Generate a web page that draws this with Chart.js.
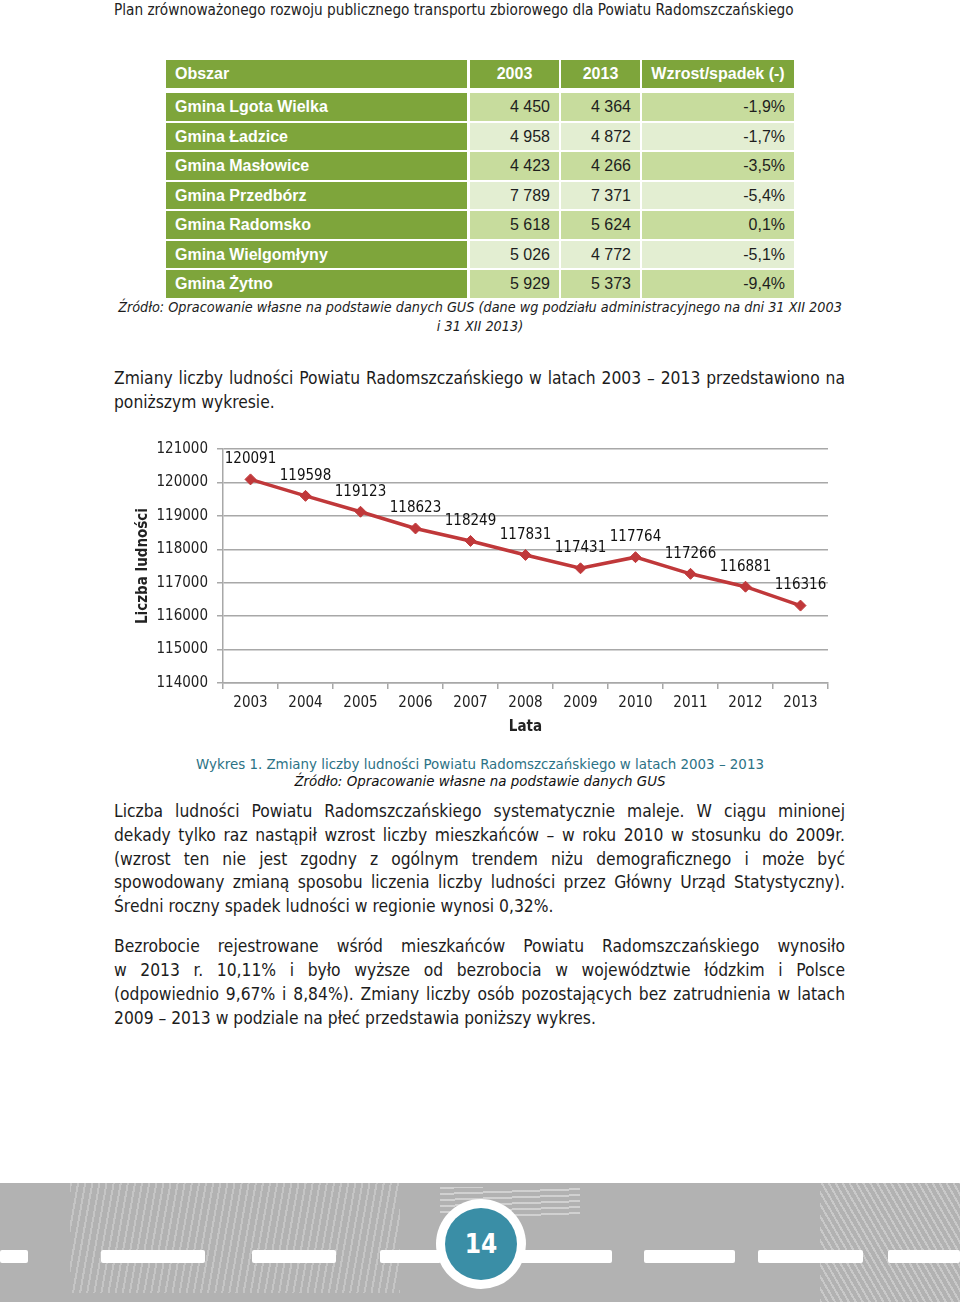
<!DOCTYPE html>
<html lang="pl">
<head>
<meta charset="utf-8">
<title>Zmiany liczby ludności Powiatu Radomszczańskiego</title>
<script src="https://cdn.jsdelivr.net/npm/chart.js@4.4.1/dist/chart.umd.min.js"></script>
<style>
  html, body { margin: 0; padding: 0; background: #fff; }
  body { width: 960px; height: 1302px; position: relative; overflow: hidden;
         font-family: 'DejaVu Sans Condensed', 'DejaVu Sans', sans-serif; color: #1c1c1c; }
  .abs { position: absolute; }
  .hdr { left: 114px; top: 0; line-height: 20px; font-size: 15.2px; color: #222; white-space: nowrap; }
  .line { white-space: nowrap; }
  .just { text-align: justify; text-align-last: justify; }
  .para { left: 114px; width: 731px; font-size: 17.3px; }
  .cell { position: absolute; box-sizing: border-box; font-family: 'Liberation Sans', Arial, sans-serif;
          font-size: 16px; line-height: 27.5px; padding: 0 9px; white-space: nowrap; }
  .src { left: 80px; width: 800px; font-size: 14.3px; font-style: italic; line-height: 19px; text-align: center; }
  #chartBox { position: absolute; left: 130px; top: 430px; width: 710px; height: 310px; }
  .cap { left: 80px; width: 800px; text-align: center; line-height: 17px; font-size: 14.9px; }
  #footer { left: 0; top: 1183px; width: 960px; height: 119px; background: #b2b2b2; overflow: hidden; }
  .dash { position: absolute; top: 67px; height: 13px; background: #fff; border-radius: 2px; }
</style>
</head>
<body>

<div class="abs hdr">Plan zrównoważonego rozwoju publicznego transportu zbiorowego dla Powiatu Radomszczańskiego</div>

<div id="table"></div>

<div class="abs src" style="top:297.5px;">
  <div class="line">Źródło: Opracowanie własne na podstawie danych GUS (dane wg podziału administracyjnego na dni 31 XII 2003</div>
  <div class="line">i 31 XII 2013)</div>
</div>

<div class="abs para" style="top:366px; line-height:24px;">
  <div class="line just">Zmiany liczby ludności Powiatu Radomszczańskiego w latach 2003 – 2013 przedstawiono na</div>
  <div class="line">poniższym wykresie.</div>
</div>

<div id="chartBox"><canvas id="popChart"></canvas></div>

<div class="abs cap" style="top:755.5px;">
  <div class="line" style="color:#2c7285;">Wykres 1. Zmiany liczby ludności Powiatu Radomszczańskiego w latach 2003 – 2013</div>
  <div class="line" style="font-style:italic; color:#111;">Źródło: Opracowanie własne na podstawie danych GUS</div>
</div>

<div class="abs para" style="top:800px; line-height:23.75px;">
  <div class="line just">Liczba ludności Powiatu Radomszczańskiego systematycznie maleje. W ciągu minionej</div>
  <div class="line just">dekady tylko raz nastąpił wzrost liczby mieszkańców – w roku 2010 w stosunku do 2009r.</div>
  <div class="line just">(wzrost ten nie jest zgodny z ogólnym trendem niżu demograficznego i może być</div>
  <div class="line just">spowodowany zmianą sposobu liczenia liczby ludności przez Główny Urząd Statystyczny).</div>
  <div class="line">Średni roczny spadek ludności w regionie wynosi 0,32%.</div>
</div>

<div class="abs para" style="top:934px; line-height:24px;">
  <div class="line just">Bezrobocie rejestrowane wśród mieszkańców Powiatu Radomszczańskiego wynosiło</div>
  <div class="line just">w 2013 r. 10,11% i było wyższe od bezrobocia w województwie łódzkim i Polsce</div>
  <div class="line just">(odpowiednio 9,67% i 8,84%). Zmiany liczby osób pozostających bez zatrudnienia w latach</div>
  <div class="line">2009 – 2013 w podziale na płeć przedstawia poniższy wykres.</div>
</div>

<div id="footer" class="abs">
  <div class="abs" style="left:70px; top:0; width:330px; height:110px; background:repeating-linear-gradient(100deg, rgba(255,255,255,0.25) 0 2px, transparent 2px 7px);"></div>
  <div class="abs" style="left:820px; top:0; width:140px; height:119px; background:repeating-linear-gradient(60deg, rgba(255,255,255,0.3) 0 2px, transparent 2px 6px);"></div>
  <div class="abs" style="left:440px; top:4px; width:140px; height:30px; background:repeating-linear-gradient(178deg, rgba(255,255,255,0.4) 0 2px, transparent 2px 6px);"></div>
  <div class="dash" style="left:0; width:28px;"></div>
  <div class="dash" style="left:101px; width:104px;"></div>
  <div class="dash" style="left:252px; width:84px;"></div>
  <div class="dash" style="left:380px; width:61px;"></div>
  <div class="dash" style="left:520px; width:92px;"></div>
  <div class="dash" style="left:644px; width:91px;"></div>
  <div class="dash" style="left:758px; width:105px;"></div>
  <div class="dash" style="left:888px; width:72px;"></div>
  <div class="abs" style="left:436px; top:16px; width:90px; height:90px; border-radius:50%; background:#fff;"></div>
  <div class="abs" style="left:445px; top:25px; width:72px; height:72px; border-radius:50%; background:#3a8ea6;
       color:#fff; font-family:'DejaVu Sans Condensed', sans-serif; font-weight:bold; font-size:26px; line-height:72px; text-align:center;">14</div>
</div>

<script>
// --- table data ---
const gminy = ['Gmina Lgota Wielka', 'Gmina Ładzice', 'Gmina Masłowice', 'Gmina Przedbórz',
  'Gmina Radomsko', 'Gmina Wielgomłyny', 'Gmina Żytno'];
const pop2003 = ['4 450', '4 958', '4 423', '7 789', '5 618', '5 026', '5 929'];
const pop2013 = ['4 364', '4 872', '4 266', '7 371', '5 624', '4 772', '5 373'];
const zmiana = ['-1,9%', '-1,7%', '-3,5%', '-5,4%', '0,1%', '-5,1%', '-9,4%'];

// --- chart data ---
const years = ['2003', '2004', '2005', '2006', '2007', '2008', '2009', '2010', '2011', '2012', '2013'];
const population = [120091, 119598, 119123, 118623, 118249, 117831, 117431, 117764, 117266, 116881, 116316];
const yMin = 114000;
const yMax = 121000;
const yStep = 1000;

const cols = [
  { left: 166, width: 301 },
  { left: 470, width: 89 },
  { left: 561, width: 79 },
  { left: 642, width: 152 }
];

const buildTable = () => {
  const box = document.getElementById('table');
  const green = '#7ea53b';
  const addCell = (col, top, height, text, bg, color, align, bold) => {
    const d = document.createElement('div');
    d.className = 'cell';
    d.style.left = cols[col].left + 'px';
    d.style.width = cols[col].width + 'px';
    d.style.top = top + 'px';
    d.style.height = height + 'px';
    d.style.lineHeight = height + 'px';
    d.style.background = bg;
    d.style.color = color;
    d.style.textAlign = align;
    if (bold) d.style.fontWeight = 'bold';
    d.textContent = text;
    box.appendChild(d);
  };

  const head = ['Obszar', '2003', '2013', 'Wzrost/spadek (-)'];
  head.forEach((h, i) => addCell(i, 60, 28, h, green, '#fff', i === 0 ? 'left' : 'center', true));

  gminy.forEach((g, r) => {
    const top = 93.25 + r * 29.5;
    const light = r % 2 === 0 ? '#c7dc9d' : '#e3eed2';
    addCell(0, top, 27.5, g, green, '#fff', 'left', true);
    addCell(1, top, 27.5, pop2003[r], light, '#1e1e1e', 'right', false);
    addCell(2, top, 27.5, pop2013[r], light, '#1e1e1e', 'right', false);
    addCell(3, top, 27.5, zmiana[r], light, '#1e1e1e', 'right', false);
  });
};
buildTable();

const axisFont = { family: "'DejaVu Sans Condensed', 'DejaVu Sans', sans-serif", size: 15 };
const titleFont = { family: "'DejaVu Sans Condensed', 'DejaVu Sans', sans-serif", size: 15, weight: 'bold' };
const gridColor = '#a8a8a8';

// draws each value above its point
const valueLabels = {
  id: 'valueLabels',
  afterDatasetsDraw(chart) {
    const { ctx } = chart;
    const meta = chart.getDatasetMeta(0);
    ctx.save();
    ctx.font = "15px 'DejaVu Sans Condensed', 'DejaVu Sans', sans-serif";
    ctx.fillStyle = '#111';
    ctx.textAlign = 'center';
    ctx.textBaseline = 'middle';
    meta.data.forEach((pt, i) => {
      ctx.fillText(String(chart.data.datasets[0].data[i]), pt.x, pt.y - 20);
    });
    ctx.restore();
  }
};

new Chart(document.getElementById('popChart'), {
  type: 'line',
  data: {
    labels: years,
    datasets: [{
      label: 'Liczba ludności',
      data: population,
      borderColor: '#c0383a',
      backgroundColor: '#c0383a',
      borderWidth: 3.5,
      tension: 0,
      pointStyle: 'rectRot',
      pointRadius: 5.5,
      pointHoverRadius: 5.5,
      pointBorderWidth: 1
    }]
  },
  options: {
    responsive: true,
    maintainAspectRatio: false,
    animation: false,
    layout: { padding: { left: 0, top: 19, right: 12, bottom: 4 } },
    plugins: {
      legend: { display: false },
      tooltip: { enabled: false }
    },
    scales: {
      x: {
        offset: true,
        grid: { offset: true, drawOnChartArea: false, drawTicks: true, tickLength: 6, color: gridColor, lineWidth: 1.5 },
        border: { color: gridColor, width: 1.5 },
        ticks: { padding: 5, color: '#222', font: axisFont, maxRotation: 0 },
        title: { display: true, text: 'Lata', color: '#222', font: titleFont, padding: { top: 6, bottom: 0 } },
        afterFit: (s) => { s.height = 53; }
      },
      y: {
        min: yMin,
        max: yMax,
        grid: { color: gridColor, lineWidth: 1.5, tickLength: 6 },
        border: { color: gridColor, width: 1.5 },
        ticks: { stepSize: yStep, padding: 9, color: '#222', font: axisFont, callback: (v) => String(v) },
        title: { display: true, text: 'Liczba ludności', color: '#222', font: titleFont, padding: { top: 4, bottom: 0 } },
        afterFit: (s) => { s.width = 93; }
      }
    }
  },
  plugins: [valueLabels]
});
</script>
</body>
</html>
